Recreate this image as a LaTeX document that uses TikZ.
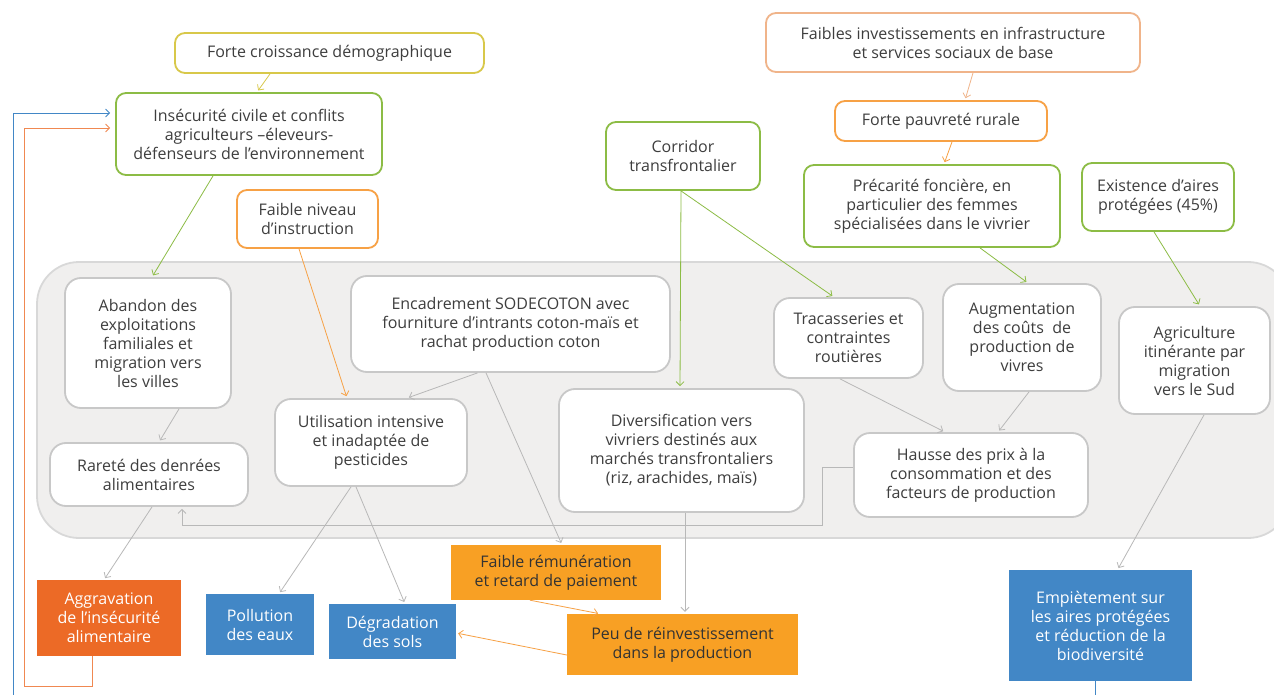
\documentclass[tikz,border=0pt]{standalone}
\usepackage{fontspec}
\setmainfont{Open Sans}
\usetikzlibrary{arrows.meta,calc}
\definecolor{txt}{HTML}{3E3E3E}
\definecolor{yel}{HTML}{D8C84A}
\definecolor{grn}{HTML}{8CBC45}
\definecolor{org}{HTML}{F7A145}
\definecolor{pch}{HTML}{F0B48A}
\definecolor{gbd}{HTML}{C8C8C8}
\definecolor{bgf}{HTML}{F0EFEE}
\definecolor{bgl}{HTML}{D8D8D8}
\definecolor{blu}{HTML}{4287C6}
\definecolor{red}{HTML}{EC6A26}
\definecolor{orf}{HTML}{F8A024}
\definecolor{gln}{HTML}{B8B8B8}
\tikzset{
  base/.style={align=center, inner sep=0pt, text=txt, font=\fontsize{16}{19}\selectfont},
  ob/.style={base, draw, line width=1.8pt, fill=white, rounded corners=10pt},
  ib/.style={base, draw=gbd, line width=1.8pt, fill=white, rounded corners=16pt},
  fb/.style={base},
  con/.style={line width=0.8pt, -{Straight Barb[length=4pt,width=8pt]}, shorten >=2pt},
}
\begin{document}
\begin{tikzpicture}[x=1pt,y=-1pt]
\useasboundingbox (0,0) rectangle (1274,695);
\fill[white] (0,0) rectangle (1274,695);
\draw[bgl, fill=bgf, line width=1.8pt, rounded corners=42pt] (37,262) rectangle (1290,538);

% top nodes
\node[ob, draw=yel, minimum width=309, minimum height=40] (fcd) at (329.5,53) {Forte croissance démographique};
\node[ob, draw=grn, minimum width=266, minimum height=82] (ins) at (249,134) {Insécurité civile et conflits\\agriculteurs –éleveurs-\\défenseurs de l’environnement};
\node[ob, draw=org, minimum width=141, minimum height=58] (fni) at (307.5,219) {Faible niveau\\d’instruction};
\node[ob, draw=pch, minimum width=374, minimum height=59] (fis) at (953,42.5) {Faibles investissements en infrastructure\\et services sociaux de base};
\node[ob, draw=org, minimum width=212, minimum height=40] (fpr) at (941,121) {Forte pauvreté rurale};
\node[ob, draw=grn, minimum width=154, minimum height=68] (cor) at (683,156) {Corridor\\transfrontalier};
\node[ob, draw=grn, minimum width=256, minimum height=82] (pre) at (932,206) {Précarité foncière, en\\particulier des femmes\\spécialisées dans le vivrier};
\node[ob, draw=grn, minimum width=152, minimum height=68] (exi) at (1158,197) {Existence d’aires\\protégées (45\%)};

% inner nodes
\node[ib, minimum width=166, minimum height=130] (aba) at (148,343) {Abandon des\\exploitations\\familiales et\\migration vers\\les villes};
\node[ib, minimum width=198, minimum height=63] (rar) at (149,474.5) {Rareté des denrées\\alimentaires};
\node[ib, minimum width=319, minimum height=96] (enc) at (510.5,324) {Encadrement SODECOTON avec\\fourniture d’intrants coton-maïs et\\rachat production coton};
\node[ib, minimum width=192, minimum height=87] (uti) at (371,442.5) {Utilisation intensive\\et inadaptée de\\pesticides};
\node[ib, minimum width=245, minimum height=123] (div) at (681.5,450.5) {Diversification vers\\vivriers destinés aux\\marchés transfrontaliers\\(riz, arachides, maïs)};
\node[ib, minimum width=149, minimum height=80] (tra) at (848.5,338) {Tracasseries et\\contraintes\\routières};
\node[ib, minimum width=158, minimum height=107] (aug) at (1022,337.5) {Augmentation\\des coûts~~de\\production de\\vivres};
\node[ib, minimum width=151, minimum height=107] (agr) at (1194.5,360.5) {Agriculture\\itinérante par\\migration\\vers le Sud};
\node[ib, minimum width=234, minimum height=84] (hau) at (971,475) {Hausse des prix à la\\consommation et des\\facteurs de production};

% bottom nodes
\node[fb, fill=red, text=white, minimum width=144, minimum height=76] (agg) at (109,618) {Aggravation\\de l’insécurité\\alimentaire};
\node[fb, fill=blu, text=white, minimum width=108, minimum height=61] (pol) at (260,624.5) {Pollution\\des eaux};
\node[fb, fill=blu, text=white, minimum width=127, minimum height=55] (deg) at (392.5,631.5) {Dégradation\\des sols};
\node[fb, fill=orf, text=black!80, minimum width=210, minimum height=55] (fre) at (556,572.5) {Faible rémunération\\et retard de paiement};
\node[fb, fill=orf, text=black!80, minimum width=231, minimum height=61] (peu) at (682.5,644.5) {Peu de réinvestissement\\dans la production};
\node[fb, fill=blu, text=white, minimum width=183, minimum height=111] (emp) at (1100.5,625.5) {Empiètement sur\\les aires protégées\\et réduction de la\\biodiversité};

% connectors
\draw[con, yel] ([xshift=-59.5pt]fcd.south) -- ([xshift=8pt]ins.north);
\draw[con, grn] ([xshift=-36pt]ins.south) -- ([xshift=4pt]aba.north);
\draw[con, org] ([xshift=-8.5pt]fni.south) -- ([xshift=-24pt]uti.north);
\draw[con, pch] ([xshift=20pt]fis.south) -- ([xshift=24pt]fpr.north);
\draw[con, org] ([xshift=11pt]fpr.south) -- ([xshift=12pt]pre.north);
\draw[con, grn] ([xshift=-2pt]cor.south) -- ([xshift=-1.5pt]div.north);
\draw[con, grn] ([xshift=-2pt]cor.south) -- ([xshift=-14.5pt]tra.north);
\draw[con, grn] ([xshift=48pt]pre.south) -- ([xshift=6pt]aug.north);
\draw[con, grn] ([xshift=-4pt]exi.south) -- ([xshift=5.5pt]agr.north);
\draw[con, gln] ([xshift=31pt]aba.south) -- ([xshift=10pt]rar.north);
\draw[con, gln] ([xshift=-33pt]enc.south) -- ([xshift=36pt]uti.north);
\draw[con, gln] ([xshift=-24.5pt]enc.south) -- ([xshift=6pt]fre.north);
\draw[con, gln] ([xshift=-8.5pt]tra.south) -- ([xshift=-26pt]hau.north);
\draw[con, gln] ([xshift=7pt]aug.south) -- ([xshift=27pt]hau.north);
\draw[con, gln] ([yshift=8pt]hau.west) -- ++(-31,0) -- ++(0,58) -| ([xshift=33pt]rar.south);
\draw[con, gln] ([xshift=3pt]rar.south) -- ([xshift=-5pt]agg.north);
\draw[con, gln] ([xshift=-20pt]uti.south) -- ([xshift=19pt]pol.north);
\draw[con, gln] ([xshift=-15pt]uti.south) -- ([xshift=12.5pt]deg.north);
\draw[con, gln] ([xshift=3.5pt]div.south) -- ([xshift=2.5pt]peu.north);
\draw[con, org] ([xshift=-26pt]fre.south) -- ([xshift=-82.5pt]peu.north);
\draw[con, org] ([yshift=-10.5pt]peu.west) -- ([yshift=-1.5pt]deg.east);
\draw[con, gln] ([xshift=9.5pt]agr.south) -- ([xshift=17pt]emp.north);
\draw[con, blu, shorten >=5pt] ([xshift=-5.5pt]emp.south) -- ++(0,30) -- ++(-1082,0) |- ([yshift=21pt]ins.west);
\draw[con, red!80, shorten >=5pt] ([xshift=-17pt]agg.south) -- ++(0,30) -- ++(-68,0) |- ([yshift=6pt]ins.west);
\end{tikzpicture}
\end{document}
